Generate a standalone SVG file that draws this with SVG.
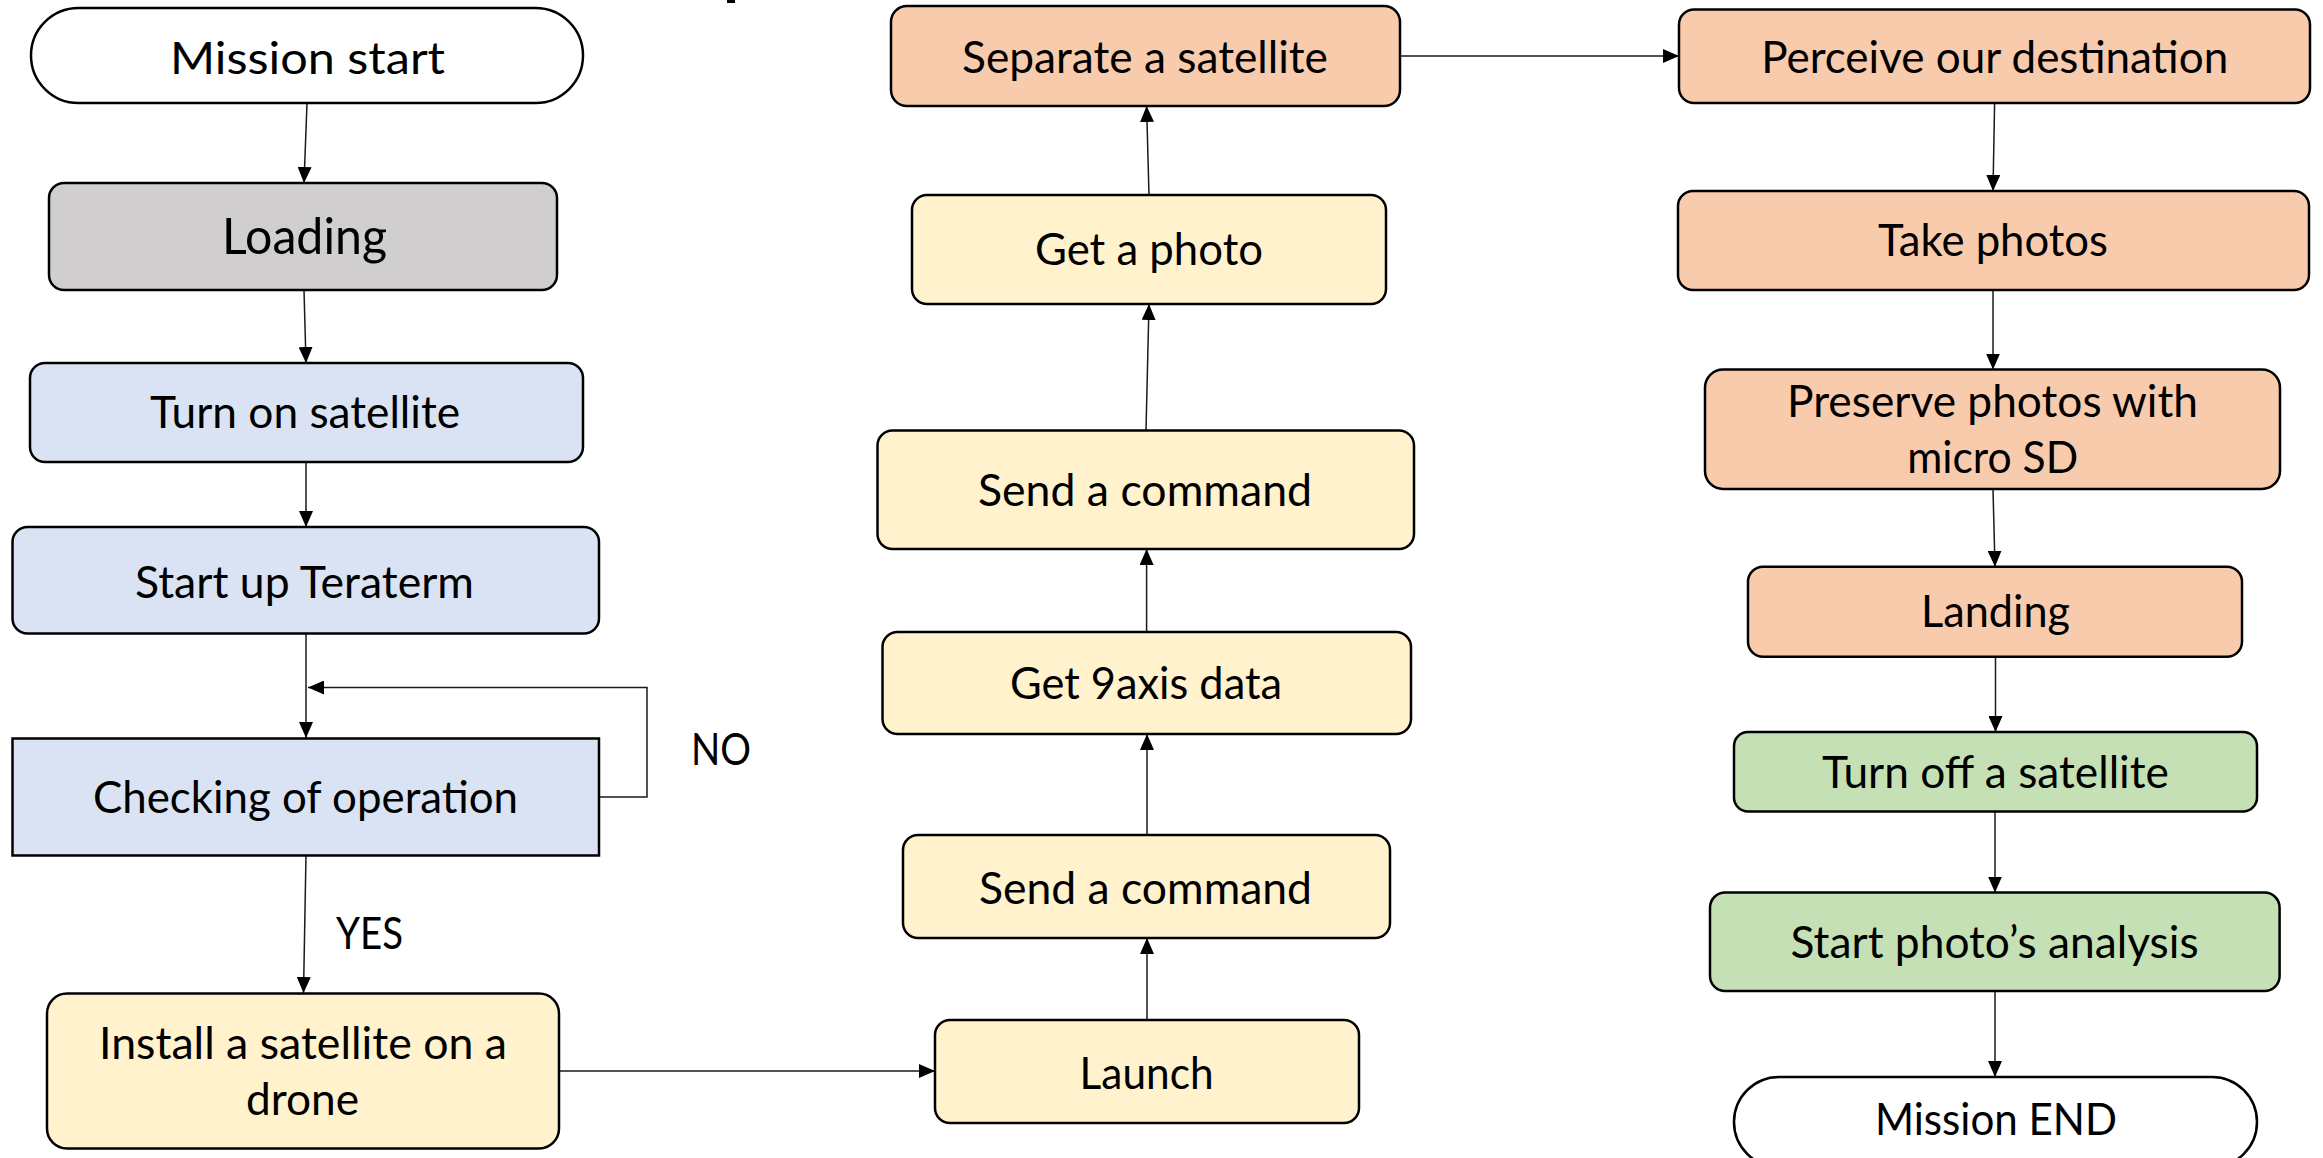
<svg xmlns="http://www.w3.org/2000/svg" width="2323" height="1158" viewBox="0 0 2323 1158">
<defs>
<style>
.box{stroke:#000;stroke-width:2.5}
.term{fill:#fff}
.gray{fill:#D0CECE}
.blue{fill:#DAE3F3}
.yellow{fill:#FFF2CC}
.orange{fill:#F8CBAD}
.green{fill:#C5E0B4}
text{font-family:Lato,"Liberation Sans",sans-serif;font-size:44px;fill:#000}
.c{text-anchor:middle}
.big{font-size:50px}
.conn path{fill:none;stroke:#1a1a1a;stroke-width:1.5;marker-end:url(#ah)}
</style>
<marker id="ah" markerUnits="userSpaceOnUse" markerWidth="16" markerHeight="14" refX="16" refY="7" orient="auto">
<path d="M0,0 L16,7 L0,14 z" fill="#000"/>
</marker>
</defs>
<rect width="2323" height="1158" fill="#fff"/>
<rect x="727" y="0" width="8" height="3" fill="#000"/>

<g id="connectors" class="conn">
<path d="M307,103 L304,183"/>
<path d="M304,290 L306,363"/>
<path d="M306,462 L306,527"/>
<path d="M306,633.5 L306,738"/>
<path d="M599,797 H647 V687.5 H308"/>
<path d="M306,855 L303.5,993"/>
<path d="M559,1071 L935,1071"/>
<path d="M1147,1020 L1147,938"/>
<path d="M1147,835 L1147,734"/>
<path d="M1146.6,632 L1146.6,549"/>
<path d="M1146,430.5 L1149,304"/>
<path d="M1149,195 L1146.6,106"/>
<path d="M1400,56 L1679,56"/>
<path d="M1994.6,103 L1993,191"/>
<path d="M1993,290 L1993,369.5"/>
<path d="M1993,489 L1995,566.7"/>
<path d="M1995.5,657 L1995.5,732"/>
<path d="M1995,811.5 L1995,892.6"/>
<path d="M1995,991 L1995,1077"/>
</g>

<g id="mission-start"><rect class="box term" x="31" y="8" width="552" height="95" rx="47.5"/><text class="c" x="307.5" y="74" textLength="275" lengthAdjust="spacingAndGlyphs">Mission start</text></g>
<g id="loading"><rect class="box gray" x="49" y="183" width="508" height="107" rx="15"/><text class="c big" x="304.5" y="254" textLength="165" lengthAdjust="spacingAndGlyphs">Loading</text></g>
<g id="turn-on"><rect class="box blue" x="30" y="363" width="553" height="99" rx="15"/><text class="c" x="305" y="428" textLength="310" lengthAdjust="spacingAndGlyphs">Turn on satellite</text></g>
<g id="start-up"><rect class="box blue" x="12.5" y="527" width="586.5" height="106.5" rx="15"/><text class="c" x="304.5" y="597.6" textLength="339" lengthAdjust="spacingAndGlyphs">Start up Teraterm</text></g>
<g id="checking"><rect class="box blue" x="12.5" y="738.5" width="586.5" height="117"/><text class="c" x="305.5" y="813" textLength="425" lengthAdjust="spacingAndGlyphs">Checking of operation</text></g>
<g id="label-no"><text x="691" y="765" textLength="60" lengthAdjust="spacingAndGlyphs">NO</text></g>
<g id="label-yes"><text x="336" y="949" textLength="67" lengthAdjust="spacingAndGlyphs">YES</text></g>
<g id="install"><rect class="box yellow" x="47" y="993.5" width="512" height="155" rx="20"/><text class="c" x="303" y="1058.5" textLength="408" lengthAdjust="spacingAndGlyphs">Install a satellite on a</text><text class="c" x="302.5" y="1115" textLength="113" lengthAdjust="spacingAndGlyphs">drone</text></g>

<g id="launch"><rect class="box yellow" x="935" y="1020" width="424" height="103" rx="15"/><text class="c" x="1146.6" y="1088.5" textLength="134" lengthAdjust="spacingAndGlyphs">Launch</text></g>
<g id="send-command-2"><rect class="box yellow" x="903" y="835" width="487" height="103" rx="15"/><text class="c" x="1145.5" y="903.6" textLength="333" lengthAdjust="spacingAndGlyphs">Send a command</text></g>
<g id="get-9axis"><rect class="box yellow" x="882.5" y="632" width="528.5" height="102" rx="15"/><text class="c" x="1146" y="699" textLength="272" lengthAdjust="spacingAndGlyphs">Get 9axis data</text></g>
<g id="send-command-1"><rect class="box yellow" x="877.5" y="430.5" width="536.5" height="118.5" rx="15"/><text class="c" x="1145" y="506" textLength="334" lengthAdjust="spacingAndGlyphs">Send a command</text></g>
<g id="get-photo"><rect class="box yellow" x="912" y="195" width="474" height="109" rx="15"/><text class="c" x="1149" y="265" textLength="228" lengthAdjust="spacingAndGlyphs">Get a photo</text></g>
<g id="separate"><rect class="box orange" x="891" y="6" width="509" height="100" rx="16"/><text class="c" x="1145" y="72.7" textLength="366" lengthAdjust="spacingAndGlyphs">Separate a satellite</text></g>

<g id="perceive"><rect class="box orange" x="1679" y="9.5" width="631" height="93.5" rx="15"/><text class="c" x="1994.7" y="72.7" textLength="467" lengthAdjust="spacingAndGlyphs">Perceive our destination</text></g>
<g id="take-photos"><rect class="box orange" x="1678" y="191" width="631" height="99" rx="15"/><text class="c" x="1993" y="255.6" textLength="230" lengthAdjust="spacingAndGlyphs">Take photos</text></g>
<g id="preserve"><rect class="box orange" x="1705" y="369.5" width="575" height="119.5" rx="18"/><text class="c" x="1992.5" y="417" textLength="411" lengthAdjust="spacingAndGlyphs">Preserve photos with</text><text class="c" x="1992.7" y="472.6" textLength="171" lengthAdjust="spacingAndGlyphs">micro SD</text></g>
<g id="landing"><rect class="box orange" x="1748" y="566.7" width="494" height="90" rx="15"/><text class="c" x="1995.5" y="627" textLength="149" lengthAdjust="spacingAndGlyphs">Landing</text></g>
<g id="turn-off"><rect class="box green" x="1734" y="732" width="523" height="79.5" rx="14"/><text class="c" x="1995.4" y="788" textLength="347" lengthAdjust="spacingAndGlyphs">Turn off a satellite</text></g>
<g id="start-analysis"><rect class="box green" x="1710" y="892.6" width="569.6" height="98.4" rx="15"/><text class="c" x="1994.6" y="957.8" textLength="408" lengthAdjust="spacingAndGlyphs">Start photo’s analysis</text></g>
<g id="mission-end"><rect class="box term" x="1734" y="1077" width="523" height="90" rx="45"/><text class="c" x="1996" y="1135" textLength="242" lengthAdjust="spacingAndGlyphs">Mission END</text></g>
</svg>
